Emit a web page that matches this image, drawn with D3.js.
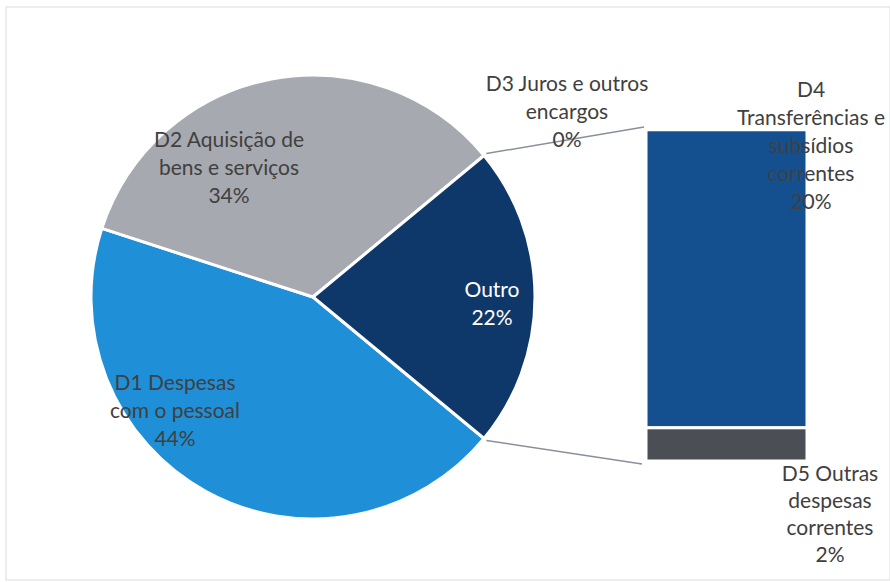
<!DOCTYPE html>
<html>
<head>
<meta charset="utf-8">
<script src="https://cdn.jsdelivr.net/npm/d3@7"></script>
<style>
  body { margin: 0; background: #fff; }
  svg { display: block; font-family: Lato, 'Open Sans', sans-serif; }
</style>
</head>
<body>
<svg id="chart"></svg>
<script>
// pie categories (main pie) and bar categories (split part)
const pieLabels = [['D1 Despesas', 'com o pessoal'], ['D2 Aquisição de', 'bens e serviços'], ['Outro']]
const pieValues = [44, 34, 22]
const barLabels = [['D3 Juros e outros', 'encargos'], ['D4', 'Transferências e', 'subsídios', 'correntes'], ['D5 Outras', 'despesas', 'correntes']]
const barValues = [0.05, 19.75, 2.2]
const barPct = ['0%', '20%', '2%']
const piePct = ['44%', '34%', '22%']

const width = 890
const height = 582
const pieColors = ['#1f8fd8', '#a6a9b0', '#0f386a']
const barColors = ['#a6a9b0', '#14508f', '#4b4e55']
const textColor = '#404040'

const svg = d3.select('#chart').attr('width', width).attr('height', height)

// chart frame
svg.append('rect')
  .attr('x', 6).attr('y', 7).attr('width', width - 6).attr('height', height - 9)
  .attr('fill', 'none').attr('stroke', '#dcdcdc').attr('stroke-width', 1)

const cx = 313
const cy = 297
const r = 222

// Outro slice is centered on the right side (90deg)
const outroSpan = pieValues[2] / d3.sum(pieValues) * 2 * Math.PI
const start = Math.PI / 2 + outroSpan / 2

const pie = d3.pie().sort(null).startAngle(start).endAngle(start + 2 * Math.PI)
const arcs = pie(pieValues)
const arc = d3.arc().innerRadius(0).outerRadius(r)

const g = svg.append('g').attr('transform', `translate(${cx},${cy})`)
g.selectAll('path')
  .data(arcs)
  .join('path')
  .attr('d', arc)
  .attr('fill', (d, i) => pieColors[i])
  .attr('stroke', '#fff')
  .attr('stroke-width', 3)
  .attr('stroke-linejoin', 'round')

// Bar of the split part
const barX0 = 646
const barX1 = 807
const y = d3.scaleLinear()
  .domain([0, d3.sum(barValues)])
  .range([461, 129])

// stack from bottom: last category at the bottom
const tops = barValues.map((v, i) => d3.sum(barValues.slice(i)))
const bottoms = barValues.map((v, i) => d3.sum(barValues.slice(i + 1)))

svg.append('g')
  .selectAll('rect')
  .data(barValues)
  .join('rect')
  .attr('x', barX0)
  .attr('width', barX1 - barX0)
  .attr('y', (d, i) => y(tops[i]))
  .attr('height', (d, i) => y(bottoms[i]) - y(tops[i]))
  .attr('fill', (d, i) => barColors[i])
  .attr('stroke', '#fff')
  .attr('stroke-width', 3)

// connector lines
const outro = arcs[2]
const pt = a => [cx + (r + 3) * Math.sin(a), cy - (r + 3) * Math.cos(a)]
const p1 = pt(outro.startAngle)
const p2 = pt(outro.endAngle)
svg.append('line')
  .attr('x1', p1[0]).attr('y1', p1[1])
  .attr('x2', barX0 - 2).attr('y2', y(tops[0]) - 2)
  .attr('stroke', '#8a9099').attr('stroke-width', 1.5)
svg.append('line')
  .attr('x1', p2[0]).attr('y1', p2[1])
  .attr('x2', barX0 - 4).attr('y2', y(0) + 3)
  .attr('stroke', '#8a9099').attr('stroke-width', 1.5)

// labels
function label (lines, x, yTop, color, lineH = 28) {
  const t = svg.append('text')
    .attr('x', x).attr('y', yTop)
    .attr('text-anchor', 'middle')
    .attr('font-size', 21)
    .attr('fill', color)
  lines.forEach((s, i) => {
    t.append('tspan').attr('x', x).attr('y', yTop + i * lineH).text(s)
  })
}

label([...pieLabels[0], piePct[0]], 175, 390, textColor)
label([...pieLabels[1], piePct[1]], 229, 147, textColor)
label([...pieLabels[2], piePct[2]], 492, 297, '#ffffff')

label([...barLabels[0], barPct[0]], 567, 91, textColor)
label([...barLabels[1], barPct[1]], 811, 97, textColor)
label([...barLabels[2], barPct[2]], 830, 481, textColor, 27)
</script>
</body>
</html>
